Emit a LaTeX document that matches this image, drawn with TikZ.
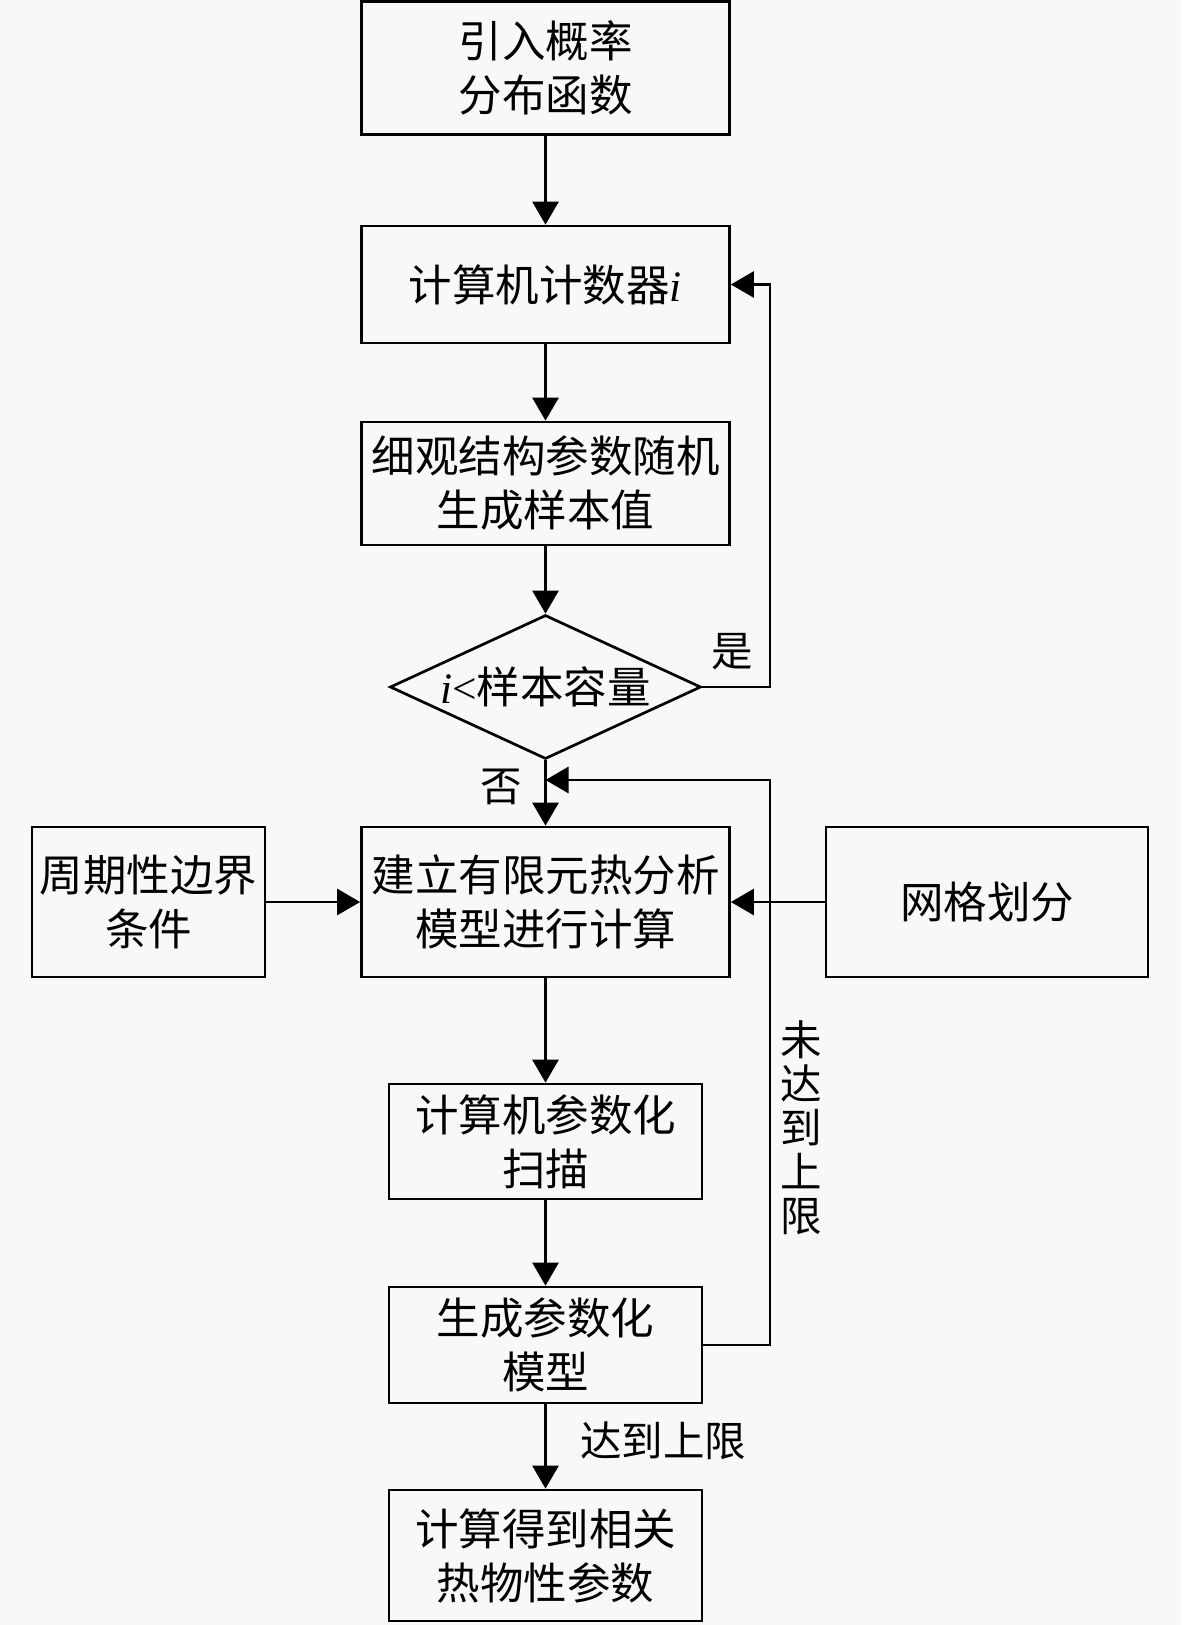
\documentclass[tikz,border=0pt]{standalone}
\usepackage{fontspec}
\setmainfont{Liberation Serif}
\newfontfamily\cjk{Noto Sans CJK SC}
\usetikzlibrary{arrows.meta,shapes.geometric}
\definecolor{bg}{RGB}{248,248,248}
\tikzset{
  box/.style={draw, line width=2.7pt, inner sep=0pt, align=center,
    font=\cjk\fontsize{43.5}{54}\selectfont},
  dia/.style={draw, diamond, line width=2.7pt, inner sep=0pt},
  arr/.style={line width=2.7pt, -{Triangle[length=23pt,width=26pt]}},
  lab/.style={font=\cjk\fontsize{41.5}{44}\selectfont, inner sep=0pt, align=center},
}
\newcommand{\ivar}{{\rmfamily\itshape i}}
\begin{document}
\begin{tikzpicture}[x=1pt,y=-1pt]
\fill[bg] (0,0) rectangle (1181,1625);
\useasboundingbox (0,0) rectangle (1181,1625);

\node[box, minimum width=368pt, minimum height=133pt] (b1) at (545.5,68) {引入概率\\分布函数};
\node[box, minimum width=368pt, minimum height=117pt] (b2) at (545.5,284.5) {计算机计数器\ivar};
\node[box, minimum width=368pt, minimum height=123pt] (b3) at (545.5,483.5) {细观结构参数随机\\生成样本值};
\node[dia, minimum width=311pt, minimum height=144pt,
  label={[font=\cjk\fontsize{43.5}{54}\selectfont]center:\ivar{\rmfamily <}样本容量}] (d) at (545.5,687) {};
\node[box, minimum width=368pt, minimum height=150pt] (b4) at (545.5,902) {建立有限元热分析\\模型进行计算};
\node[box, minimum width=233pt, minimum height=150pt] (bl) at (148.5,902) {周期性边界\\条件};
\node[box, minimum width=322pt, minimum height=150pt] (br) at (987,902) {网格划分};
\node[box, minimum width=313pt, minimum height=115pt] (b5) at (545.5,1141.5) {计算机参数化\\扫描};
\node[box, minimum width=313pt, minimum height=116pt] (b6) at (545.5,1345) {生成参数化\\模型};
\node[box, minimum width=313pt, minimum height=131pt] (b7) at (545.5,1555.5) {计算得到相关\\热物性参数};

\coordinate (lx) at (770,0);
\coordinate (ret) at (545.5,780);

\draw[arr] (b1) -- (b2);
\draw[arr] (b2) -- (b3);
\draw[arr] (b3) -- (d);
\draw[arr] (d) -- (b4);
\draw[arr] (d.east) -- (d.east -| lx) |- (b2.east);
\draw[arr] (b6.east) -- (b6.east -| lx) |- (ret);
\draw[arr] (bl) -- (b4);
\draw[arr] (br) -- (b4);
\draw[arr] (b4) -- (b5);
\draw[arr] (b5) -- (b6);
\draw[arr] (b6) -- (b7);

\node[lab] (yes) at (732,652) {是};
\node[lab] (no) at (501,787) {否};
\node[lab] (reach) at (663,1441) {达到上限};
\node[lab] (notreach) at (801,1128) {未\\达\\到\\上\\限};
\end{tikzpicture}
\end{document}
